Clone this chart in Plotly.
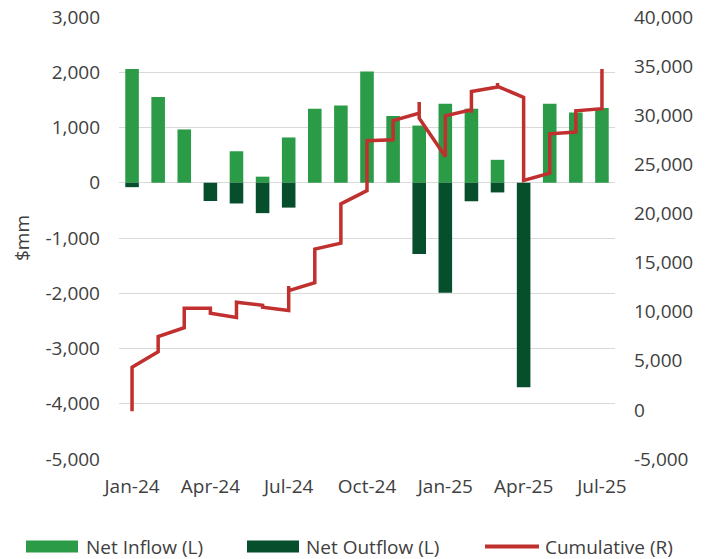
import plotly.graph_objects as go

# ---------------- data ----------------
months = ["Jan-24", "Feb-24", "Mar-24", "Apr-24", "May-24", "Jun-24", "Jul-24",
          "Aug-24", "Sep-24", "Oct-24", "Nov-24", "Dec-24", "Jan-25", "Feb-25",
          "Mar-25", "Apr-25", "May-25", "Jun-25", "Jul-25"]
net_inflow = [2060, 1550, 965, 0, 570, 110, 820, 1340, 1400, 2015, 1210, 1035,
              1430, 1340, 415, 0, 1430, 1270, 1355]
net_outflow = [-80, 0, 0, -330, -375, -550, -450, 0, 0, 0, 0, -1290,
               -1990, -335, -175, -3700, 0, 0, 0]

cum_month = ["Jan-24", "Jan-24", "Feb-24", "Feb-24", "Mar-24", "Mar-24",
             "Apr-24", "Apr-24", "May-24", "May-24", "Jun-24", "Jun-24",
             "Jul-24", "Jul-24", "Jul-24", "Aug-24", "Aug-24", "Sep-24", "Sep-24",
             "Oct-24", "Oct-24", "Nov-24", "Nov-24", "Dec-24", "Dec-24", "Dec-24",
             "Jan-25", "Jan-25", "Feb-25", "Feb-25", "Feb-25", "Mar-25", "Mar-25",
             "Mar-25", "Apr-25", "Apr-25", "May-25", "May-25", "Jun-25", "Jun-25",
             "Jul-25", "Jul-25"]
cum_value = [-150, 4350, 5930, 7460, 8370, 10350,
             10350, 9840, 9400, 10960, 10650, 10450,
             10110, 12620, 12150, 12960, 16370, 16970, 20980,
             22330, 27400, 27500, 29460, 30220, 31340, 29700,
             25800, 29940, 30560, 30250, 32420, 32870, 33280,
             32950, 31810, 23350, 24100, 28110, 28280, 30450,
             30660, 34700]

x_tick_months = ["Jan-24", "Apr-24", "Jul-24", "Oct-24", "Jan-25", "Apr-25", "Jul-25"]
left_ticks = [-5000, -4000, -3000, -2000, -1000, 0, 1000, 2000, 3000]
right_ticks = [-5000, 0, 5000, 10000, 15000, 20000, 25000, 30000, 35000, 40000]

# ---------------- style ----------------
C_IN = "#2C9B48"
C_OUT = "#064E2C"
C_CUM = "#C0302E"
TXT = "#404040"
GRID = "#D9D9D9"
FONT = "Open Sans"
FS = 19

# body margin is removed by the post script, so the figure fills the window
W, H = 712, 559
L, T = 119, 17
R = W - 615
B = H - 459
PW, PH = W - L - R, H - T - B


def px(x):
    return (x - L) / PW


def py(y):
    return (H - B - y) / PH


fig = go.Figure()
fig.add_trace(go.Bar(x=months, y=net_inflow, name="Net Inflow (L)",
                     marker=dict(color=C_IN, line=dict(width=0)), width=0.52,
                     showlegend=False))
fig.add_trace(go.Bar(x=months, y=net_outflow, name="Net Outflow (L)",
                     marker=dict(color=C_OUT, line=dict(width=0)), width=0.52,
                     showlegend=False))
fig.add_trace(go.Scatter(x=cum_month, y=cum_value, name="Cumulative (R)", yaxis="y2",
                         mode="lines", line=dict(color=C_CUM, width=3.5),
                         showlegend=False))

fig.update_layout(
    width=W, height=H,
    margin=dict(l=L, r=R, t=T, b=B, autoexpand=False),
    paper_bgcolor="white", plot_bgcolor="white",
    font=dict(family=FONT, size=FS, color=TXT),
    barmode="relative",
    xaxis=dict(type="category", categoryorder="array", categoryarray=months,
               tickmode="array", tickvals=x_tick_months, ticktext=x_tick_months,
               showgrid=False, zeroline=False, showline=False,
               ticks="outside", ticklen=0, ticklabelstandoff=10,
               ticklabeloverflow="allow",
               range=[-0.5, len(months) - 0.5]),
    yaxis=dict(range=[-5000, 3000], tickmode="array", tickvals=left_ticks,
               ticktext=[f"{v:,}" for v in left_ticks],
               showgrid=True, gridcolor=GRID, gridwidth=1.3,
               zeroline=False, showline=False, ticklabelstandoff=18,
               ticklabeloverflow="allow",
               title=dict(text="$mm", standoff=10, font=dict(size=FS))),
    yaxis2=dict(range=[-5000, 40000], overlaying="y", side="right",
                tickmode="array", tickvals=right_ticks,
                ticktext=[f"{v:,}" for v in right_ticks],
                showgrid=False, zeroline=False, showline=False,
                ticklabelstandoff=18, ticklabeloverflow="allow"),
)

# custom legend
legend_items = [
    ("Net Inflow (L)", C_IN, "rect", 26, 78, 84),
    ("Net Outflow (L)", C_OUT, "rect", 247, 299, 304),
    ("Cumulative (R)", C_CUM, "line", 485, 539, 543),
]
ly = 546.5
for label, col, kind, x0, x1, tx in legend_items:
    if kind == "rect":
        fig.add_shape(type="rect", xref="paper", yref="paper",
                      x0=px(x0), x1=px(x1), y0=py(ly + 6), y1=py(ly - 6),
                      fillcolor=col, line=dict(width=0))
    else:
        fig.add_shape(type="line", xref="paper", yref="paper",
                      x0=px(x0), x1=px(x1), y0=py(ly), y1=py(ly),
                      line=dict(color=col, width=4))
    fig.add_annotation(text=label, xref="paper", yref="paper", x=px(tx), y=py(ly),
                       xanchor="left", yanchor="middle", showarrow=False,
                       font=dict(family=FONT, size=FS, color=TXT))

fig.write_html(
    "out.html",
    config={"displayModeBar": False},
    post_script="document.body.style.margin='0';document.body.style.overflow='hidden';",
)
